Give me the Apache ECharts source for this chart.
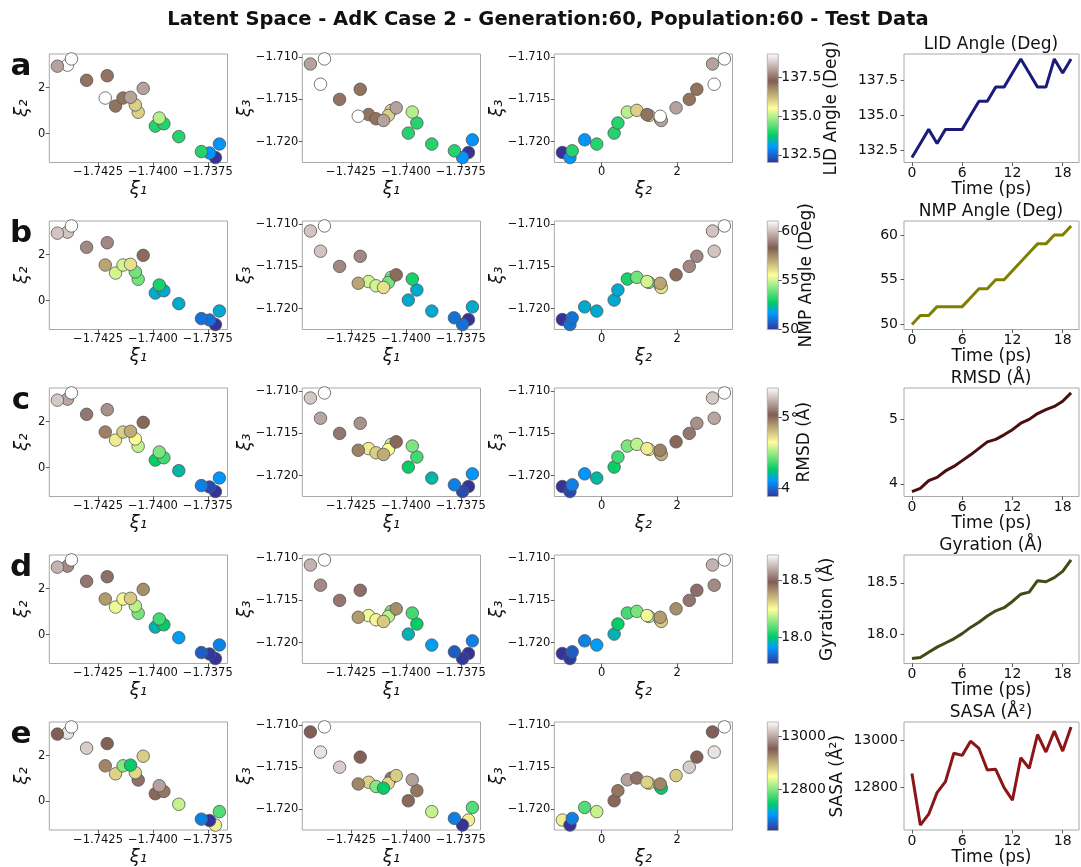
<!DOCTYPE html>
<html><head><meta charset="utf-8">
<script src="https://cdn.jsdelivr.net/npm/echarts@6/dist/echarts.min.js"></script>
<style>html,body{margin:0;padding:0;background:#fff}#c{width:1081px;height:867px}</style>
</head><body><div id="c"></div>
<script>
// ---------- data ----------
const time = [0,1,2,3,4,5,6,7,8,9,10,11,12,13,14,15,16,17,18,19];
const xi1 = [-1.73715,-1.73742,-1.73779,-1.73697,-1.73882,-1.73989,-1.73950,-1.73971,-1.74067,-1.74080,
             -1.74170,-1.74136,-1.74102,-1.74217,-1.74044,-1.74302,-1.74208,-1.74389,-1.74435,-1.74371];
const xi2 = [-1.04,-0.84,-0.78,-0.45,-0.13,0.33,0.43,0.68,0.93,1.25,
             1.20,1.55,1.58,1.55,1.97,2.32,2.52,2.98,2.935,3.25];
const xi3 = [-1.7213,-1.7219,-1.7211,-1.7198,-1.7203,-1.7190,-1.7178,-1.7165,-1.7163,-1.7169,
             -1.7168,-1.7173,-1.7175,-1.7170,-1.7160,-1.7150,-1.7138,-1.7132,-1.7108,-1.7102];
const lidAngle = [132,133,134,133,134,134,134,135,136,136,137,137,138,139,138,137,137,139,138,139];
const nmpAngle = [50,51,51,52,52,52,52,53,54,54,55,55,56,57,58,59,59,60,60,61];
const rmsd = [3.88,3.93,4.05,4.10,4.20,4.27,4.36,4.45,4.55,4.65,4.69,4.76,4.84,4.94,5.00,5.09,5.15,5.20,5.28,5.41];
const gyration = [17.77,17.78,17.83,17.88,17.92,17.96,18.01,18.07,18.12,18.18,18.23,18.26,18.32,18.39,18.41,18.52,18.51,18.55,18.61,18.72];
const sasa = [12860,12642,12688,12779,12825,12945,12936,12996,12965,12874,12877,12800,12747,12926,12881,13024,12950,13038,12954,13056];

const mainTitle = 'Latent Space - AdK Case 2 - Generation:60, Population:60 - Test Data';
const rowLetters = ['a','b','c','d','e'];
const propNames = ['LID Angle (Deg)','NMP Angle (Deg)','RMSD (Å)','Gyration (Å)','SASA (Å²)'];
const propTicks = [[132.5,135,137.5],[50,55,60],[4,5],[18.0,18.5],[12800,13000]];
const propTickLabels = [['132.5','135.0','137.5'],['50','55','60'],['4','5'],['18.0','18.5'],['12800','13000']];
const xi1Ticks = [-1.7425,-1.7400,-1.7375];
const xi1TickLabels = ['−1.7425','−1.7400','−1.7375'];
const xi2Ticks = [0,2];
const xi2TickLabels = ['0','2'];
const xi3Ticks = [-1.710,-1.715,-1.720];
const xi3TickLabels = ['−1.710','−1.715','−1.720'];
const timeTicks = [0,6,12,18];
const timeTickLabels = ['0','6','12','18'];
const timeLabel = 'Time (ps)';
const lineColors = ['#1b1b7a','#808000','#4a0f0f','#3e4d16','#8a1616'];

// ---------- helpers ----------
const props = [lidAngle, nmpAngle, rmsd, gyration, sasa];
const FONT = 'DejaVu Sans';
const terrainStops = [[0,[0.2,0.2,0.6]],[0.15,[0,0.6,1]],[0.25,[0,0.8,0.4]],[0.5,[1,1,0.6]],[0.75,[0.5,0.36,0.33]],[1,[1,1,1]]];
function terrain(t){
  t = Math.max(0, Math.min(1, t));
  for (let i = 1; i < terrainStops.length; i++) {
    if (t <= terrainStops[i][0]) {
      const [t0,c0] = terrainStops[i-1], [t1,c1] = terrainStops[i];
      const f = (t - t0) / (t1 - t0);
      const c = c0.map((v,k) => Math.round(255*(v + (c1[k]-v)*f)));
      return 'rgb(' + c.join(',') + ')';
    }
  }
  return '#fff';
}
const toRgb = c => 'rgb(' + c.map(v=>Math.round(v*255)).join(',') + ')';
function padRange(a){ const lo=Math.min(...a), hi=Math.max(...a), r=hi-lo; return [lo-0.05*r, hi+0.05*r]; }
function labelFor(ticks, labels){ return v => { let best=0; ticks.forEach((t,i)=>{ if(Math.abs(t-v)<Math.abs(ticks[best]-v)) best=i; }); return labels[best]; }; }

// ---------- layout ----------
const rowTops = [54, 221, 388, 555, 722];
const H = 108.5;
const panelLefts = [49.3, 302.3, 554.3];
const PW = 178.2;
const cbLeft = 767.3, cbW = 11;
const lineLeft = 904, lineW = 175;
const cbNameGap = [45, 20, 18, 41, 51];

const pairs = [
  {x: xi1, y: xi2, xn: 'ξ₁', yn: 'ξ₂', xt: xi1Ticks, xl: xi1TickLabels, yt: xi2Ticks, yl: xi2TickLabels, yGap: 18},
  {x: xi1, y: xi3, xn: 'ξ₁', yn: 'ξ₃', xt: xi1Ticks, xl: xi1TickLabels, yt: xi3Ticks, yl: xi3TickLabels, yGap: 48},
  {x: xi2, y: xi3, xn: 'ξ₂', yn: 'ξ₃', xt: xi2Ticks, xl: xi2TickLabels, yt: xi3Ticks, yl: xi3TickLabels, yGap: 48}
];

const grid = [], xAxis = [], yAxis = [], series = [], graphic = [];
const frame = {show: true, borderColor: '#a8a8a8', borderWidth: 1, backgroundColor: 'transparent'};
const tickStyle = {show: true, inside: false, length: 3.5, lineStyle: {color: '#333', width: 0.8}};
const noLine = {show: false, onZero: false};

rowTops.forEach((top, r) => {
  const prop = props[r];
  const lo = Math.min(...prop), hi = Math.max(...prop);
  // scatter panels
  pairs.forEach((pp, p) => {
    const gi = grid.length;
    grid.push(Object.assign({left: panelLefts[p], top: top, width: PW, height: H}, frame));
    const xr = padRange(pp.x), yr = padRange(pp.y);
    xAxis.push({type: 'value', gridIndex: gi, min: xr[0], max: xr[1], splitLine: {show: false},
      axisLine: noLine, axisTick: Object.assign({customValues: pp.xt}, tickStyle),
      axisLabel: {customValues: pp.xt, formatter: labelFor(pp.xt, pp.xl), fontFamily: FONT, fontSize: 11.5, color: '#111', margin: 4},
      name: pp.xn, nameLocation: 'middle', nameGap: 18, nameMoveOverlap: false,
      nameTextStyle: {fontFamily: FONT, fontSize: 18, fontStyle: 'italic', color: '#111'}});
    yAxis.push({type: 'value', gridIndex: gi, min: yr[0], max: yr[1], splitLine: {show: false},
      axisLine: noLine, axisTick: Object.assign({customValues: pp.yt}, tickStyle),
      axisLabel: {customValues: pp.yt, formatter: labelFor(pp.yt, pp.yl), fontFamily: FONT, fontSize: 11.5, color: '#111', margin: 4},
      name: pp.yn, nameLocation: 'middle', nameGap: pp.yGap, nameMoveOverlap: false,
      nameTextStyle: {fontFamily: FONT, fontSize: 18, fontStyle: 'italic', color: '#111'}});
    series.push({type: 'scatter', xAxisIndex: gi, yAxisIndex: gi, symbolSize: 12.5,
      data: pp.x.map((v,i) => [v, pp.y[i], prop[i]]),
      itemStyle: {color: (d) => terrain((d.value[2]-lo)/(hi-lo)), borderColor: '#555', borderWidth: 0.8, opacity: 1},
      emphasis: {disabled: true}, animation: false});
  });
  // colorbar
  const ci = grid.length;
  grid.push({left: cbLeft, top: top, width: cbW, height: H, show: true, borderColor: '#a8a8a8', borderWidth: 0.8,
    backgroundColor: {type: 'linear', x: 0, y: 1, x2: 0, y2: 0,
      colorStops: terrainStops.map(s => ({offset: s[0], color: toRgb(s[1])}))}});
  xAxis.push({type: 'value', gridIndex: ci, min: 0, max: 1, show: false});
  yAxis.push({type: 'value', gridIndex: ci, position: 'right', min: lo, max: hi, splitLine: {show: false},
    axisLine: noLine, axisTick: Object.assign({customValues: propTicks[r]}, tickStyle),
    axisLabel: {customValues: propTicks[r], formatter: labelFor(propTicks[r], propTickLabels[r]), fontFamily: FONT, fontSize: 14, color: '#111', margin: 3},
    name: propNames[r], nameLocation: 'middle', nameRotate: 90, nameGap: cbNameGap[r], nameMoveOverlap: false,
    nameTextStyle: {fontFamily: FONT, fontSize: 17, color: '#111'}});
  // line panel
  const li = grid.length;
  grid.push(Object.assign({left: lineLeft, top: top, width: lineW, height: H}, frame));
  const yr = padRange(prop);
  xAxis.push({type: 'value', gridIndex: li, min: -0.95, max: 19.95, splitLine: {show: false},
    axisLine: noLine, axisTick: Object.assign({customValues: timeTicks}, tickStyle),
    axisLabel: {customValues: timeTicks, formatter: labelFor(timeTicks, timeTickLabels), fontFamily: FONT, fontSize: 14, color: '#111', margin: 4},
    name: timeLabel, nameLocation: 'middle', nameGap: 19, nameMoveOverlap: false,
    nameTextStyle: {fontFamily: FONT, fontSize: 17, color: '#111'}});
  yAxis.push({type: 'value', gridIndex: li, min: yr[0], max: yr[1], splitLine: {show: false},
    axisLine: noLine, axisTick: Object.assign({customValues: propTicks[r]}, tickStyle),
    axisLabel: {customValues: propTicks[r], formatter: labelFor(propTicks[r], propTickLabels[r]), fontFamily: FONT, fontSize: 14, color: '#111', margin: 6}});
  series.push({type: 'line', xAxisIndex: li, yAxisIndex: li, showSymbol: false, symbol: 'none',
    data: time.map((t,i) => [t, prop[i]]),
    lineStyle: {color: lineColors[r], width: 3}, emphasis: {disabled: true}, animation: false});
  // texts
  graphic.push({type: 'text', x: 991, y: top - 9, style: {text: propNames[r], font: '17px "DejaVu Sans"', fill: '#111', textAlign: 'center', textVerticalAlign: 'middle'}});
  graphic.push({type: 'text', x: 21, y: top + 13, style: {text: rowLetters[r], font: 'bold 31px "DejaVu Sans"', fill: '#111', textAlign: 'center', textVerticalAlign: 'middle'}});
});
graphic.push({type: 'text', x: 548, y: 20, style: {text: mainTitle, font: 'bold 19.5px "DejaVu Sans"', fill: '#111', textAlign: 'center', textVerticalAlign: 'middle'}});

const chart = echarts.init(document.getElementById('c'));
chart.setOption({animation: false, grid, xAxis, yAxis, series, graphic});
</script></body></html>
